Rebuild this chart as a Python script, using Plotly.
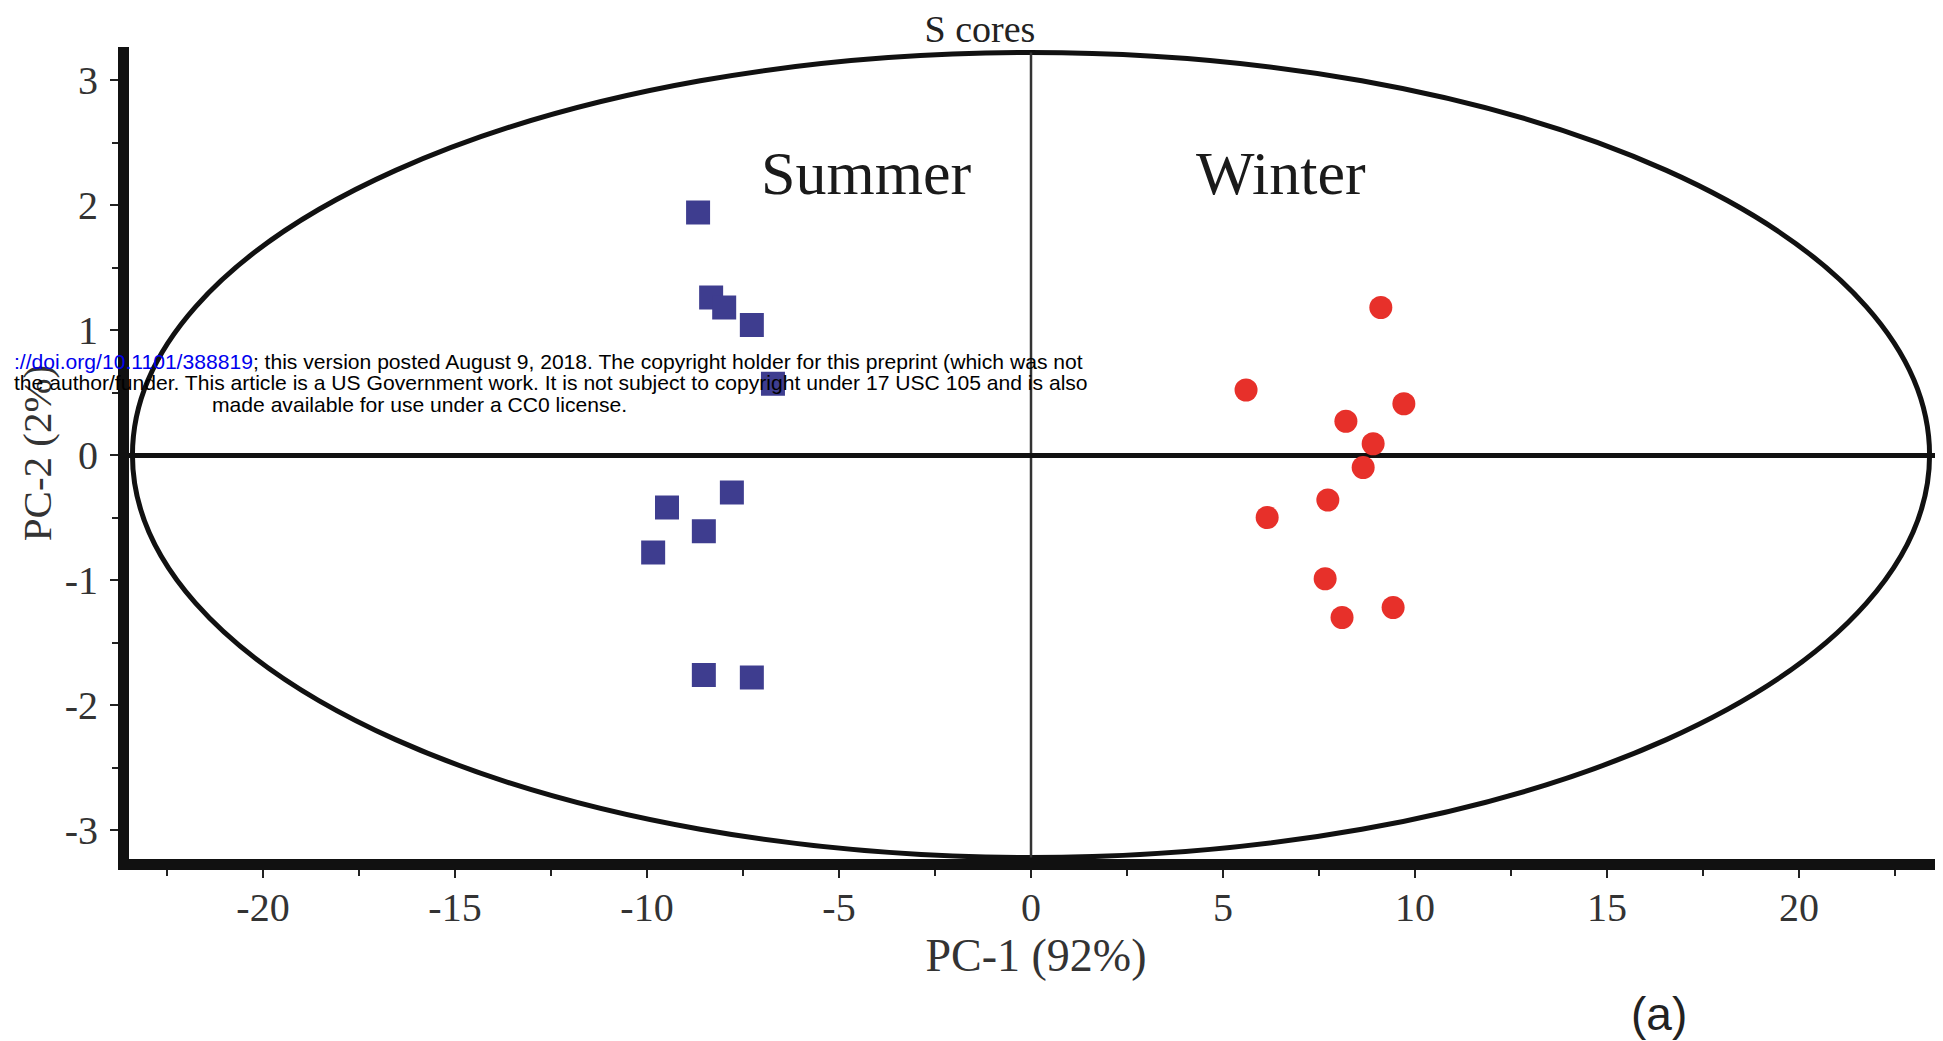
import plotly.graph_objects as go

# ---- data ----
summer_x = [-8.67, -8.33, -7.99, -7.27, -6.72, -7.79, -9.48, -8.52, -9.84, -8.52, -7.27]
summer_y = [1.94, 1.26, 1.18, 1.04, 0.57, -0.30, -0.42, -0.61, -0.78, -1.76, -1.78]
winter_x = [9.11, 5.60, 9.71, 8.20, 8.91, 8.65, 7.73, 6.15, 7.66, 9.43, 8.10]
winter_y = [1.18, 0.52, 0.41, 0.27, 0.09, -0.10, -0.36, -0.50, -0.99, -1.22, -1.30]
x_ticks = [-20, -15, -10, -5, 0, 5, 10, 15, 20]
x_tick_labels = ["-20", "-15", "-10", "-5", "0", "5", "10", "15", "20"]
y_ticks = [-3, -2, -1, 0, 1, 2, 3]
y_tick_labels = ["-3", "-2", "-1", "0", "1", "2", "3"]
ellipse_a = 23.4   # Hotelling ellipse semi-axis on PC-1
ellipse_b = 3.22   # Hotelling ellipse semi-axis on PC-2

# page has an 8px body margin; figure sized to fit the window exactly
OFF = 8
W, H = 1943 - OFF, 1041 - OFF
ML, MR, MT, MB = 121, 0, 39, 182
PW, PH = W - ML - MR, H - MT - MB


def px_x(page_px):
    return (page_px - OFF - ML) / PW


def px_y(page_py):
    return (H - MB - (page_py - OFF)) / PH


SERIF = "Liberation Serif, Times New Roman, serif"
SANS = "Liberation Sans, Arial, sans-serif"

fig = go.Figure()
fig.add_trace(go.Scatter(
    x=summer_x, y=summer_y, mode="markers", name="Summer",
    marker=dict(symbol="square", size=24, color="#3e3d8f", line=dict(width=0)),
))
fig.add_trace(go.Scatter(
    x=winter_x, y=winter_y, mode="markers", name="Winter",
    marker=dict(symbol="circle", size=23, color="#e7302a", line=dict(width=0)),
))

fig.add_shape(type="circle", xref="x", yref="y",
              x0=-ellipse_a, x1=ellipse_a, y0=-ellipse_b, y1=ellipse_b,
              line=dict(color="#111111", width=5), layer="below")
fig.add_shape(type="line", xref="x", yref="y", x0=0, x1=0,
              y0=-ellipse_b, y1=ellipse_b,
              line=dict(color="#333333", width=2.5), layer="below")

WM = 21.1
annotations = [
    dict(x=-4.3, y=2.26, xref="x", yref="y", text="Summer", showarrow=False,
         font=dict(family=SERIF, size=62, color="#1a1a1a")),
    dict(x=6.5, y=2.26, xref="x", yref="y", text="Winter", showarrow=False,
         font=dict(family=SERIF, size=62, color="#1a1a1a")),
    dict(x=px_x(1085), y=px_y(361), xref="paper", yref="paper", xanchor="right",
         yanchor="middle", showarrow=False,
         text="<span style='color:#0000ee'>://doi.org/10.1101/388819</span>; this version posted August 9, 2018. The copyright holder for this preprint (which was not",
         font=dict(family=SANS, size=WM, color="#000000")),
    dict(x=px_x(1090), y=px_y(382), xref="paper", yref="paper", xanchor="right",
         yanchor="middle", showarrow=False,
         text="the author/funder. This article is a US Government work. It is not subject to copyright under 17 USC 105 and is also",
         font=dict(family=SANS, size=WM, color="#000000")),
    dict(x=px_x(419), y=px_y(404), xref="paper", yref="paper", xanchor="center",
         yanchor="middle", showarrow=False,
         text="made available for use under a CC0 license.",
         font=dict(family=SANS, size=WM, color="#000000")),
    dict(x=px_x(1659), y=px_y(1014), xref="paper", yref="paper", xanchor="center",
         yanchor="middle", showarrow=False, text="(a)",
         font=dict(family=SANS, size=46, color="#222222")),
]

axis_common = dict(
    ticks="outside", ticklen=8, tickwidth=2, tickcolor="#222222",
    showline=True, linewidth=11, linecolor="#111111", automargin=False,
    showgrid=False, tickfont=dict(family=SERIF, size=40, color="#333333"),
)

fig.update_layout(
    width=W, height=H,
    margin=dict(l=ML, r=MR, t=MT, b=MB, pad=0),
    paper_bgcolor="white", plot_bgcolor="white",
    showlegend=False,
    title=dict(text="S cores", x=(980 - OFF) / W, xanchor="center",
               y=1 - 7 / H, yanchor="top", pad=dict(t=0, b=0),
               font=dict(family=SERIF, size=38, color="#222222")),
    xaxis=dict(range=[-23.49, 23.75], tickmode="array", tickvals=x_ticks,
               ticktext=x_tick_labels, zeroline=False, ticklabelstandoff=-5,
               minor=dict(tick0=0, dtick=2.5, ticks="outside", ticklen=6,
                          tickwidth=2, tickcolor="#222222"),
               title=dict(text="PC-1 (92%)", standoff=2,
                          font=dict(family=SERIF, size=46, color="#333333")),
               **axis_common),
    yaxis=dict(range=[-3.232, 3.264], tickmode="array", tickvals=y_ticks,
               ticktext=y_tick_labels,
               zeroline=True, zerolinewidth=5, zerolinecolor="#111111",
               ticklabelstandoff=4,
               minor=dict(tick0=0, dtick=0.5, ticks="outside", ticklen=6,
                          tickwidth=2, tickcolor="#222222"),
               title=dict(text="PC-2 (2%)", standoff=5,
                          font=dict(family=SERIF, size=41, color="#333333")),
               **axis_common),
    annotations=annotations,
)

fig.write_html("out.html")
